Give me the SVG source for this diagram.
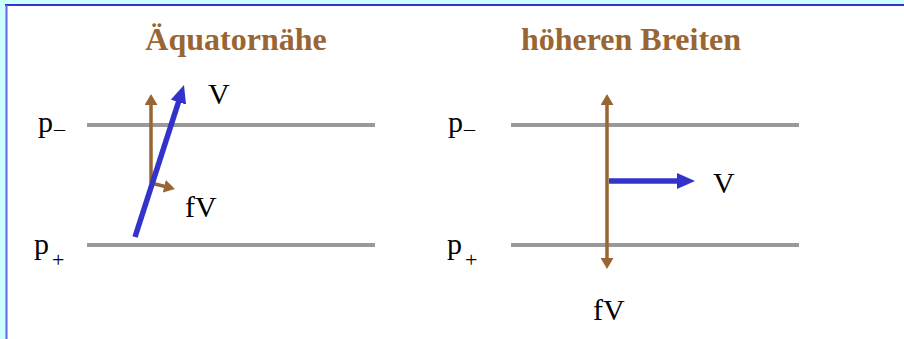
<svg xmlns="http://www.w3.org/2000/svg" width="904" height="339" viewBox="0 0 904 339">
<style>
.t{font-family:"Liberation Serif","Times New Roman",serif;font-weight:bold;font-size:32px;fill:#996633;text-anchor:middle}
.l{font-family:"Liberation Serif","Times New Roman",serif;font-size:30px;fill:#000}
.s{font-size:22px}
.g{stroke:#999999;stroke-width:4;fill:none}
.b{stroke:#996633;stroke-width:3.5;fill:none}
.v{stroke:#3333cc;stroke-width:5.5;fill:none}
</style>
<defs>
<marker id="hb" viewBox="0 0 11 13" refX="3" refY="6.5" markerWidth="11" markerHeight="13" markerUnits="userSpaceOnUse" orient="auto-start-reverse">
<path d="M0,0 L11,6.5 L0,13 z" fill="#996633"/>
</marker>
<marker id="hv" viewBox="0 0 18 16" refX="5" refY="8" markerWidth="18" markerHeight="16" markerUnits="userSpaceOnUse" orient="auto">
<path d="M0,0 L18,8 L0,16 z" fill="#3333cc"/>
</marker>
</defs>
<rect x="0" y="0" width="904" height="339" fill="#ccffff"/>
<rect x="6" y="6" width="898" height="333" fill="#ffffff"/>
<line x1="5" y1="5" x2="904" y2="5" stroke="#3333cc" stroke-width="2"/>
<line x1="6.5" y1="5" x2="6.5" y2="339" stroke="#6666dd" stroke-width="2"/>

<g id="left-panel">
<text class="t" x="236" y="50">Äquatornähe</text>
<line class="g" x1="87" y1="125" x2="375" y2="125"/>
<line class="g" x1="87" y1="245" x2="375" y2="245"/>
<text class="l" x="38" y="132">p<tspan class="s" x="54" y="136">–</tspan></text>
<text class="l" x="34" y="254">p<tspan class="s" x="52" y="267">+</tspan></text>
</g>
<g id="right-panel">
<text class="t" x="631" y="50">höheren Breiten</text>
<line class="g" x1="511" y1="125" x2="799" y2="125"/>
<line class="g" x1="511" y1="245" x2="799" y2="245"/>
<text class="l" x="448" y="132">p<tspan class="s" x="464" y="136">–</tspan></text>
<text class="l" x="447" y="254">p<tspan class="s" x="465" y="267">+</tspan></text>
</g>
<g id="connectors">
<line class="b" x1="151" y1="183" x2="151" y2="102" marker-end="url(#hb)"/>
<line class="b" x1="151" y1="183" x2="167.2" y2="187" marker-end="url(#hb)"/>
<line class="v" x1="135" y1="237" x2="180" y2="97.4" marker-end="url(#hv)"/>
<line class="b" x1="607" y1="102" x2="607" y2="261" marker-start="url(#hb)" marker-end="url(#hb)"/>
<line class="v" x1="609" y1="181" x2="682" y2="181" marker-end="url(#hv)"/>
</g>
<g id="labels">
<text class="l" x="208" y="104">V</text>
<text class="l" x="185" y="217">fV</text>
<text class="l" x="713" y="193">V</text>
<text class="l" x="593" y="320">fV</text>
</g>
</svg>
